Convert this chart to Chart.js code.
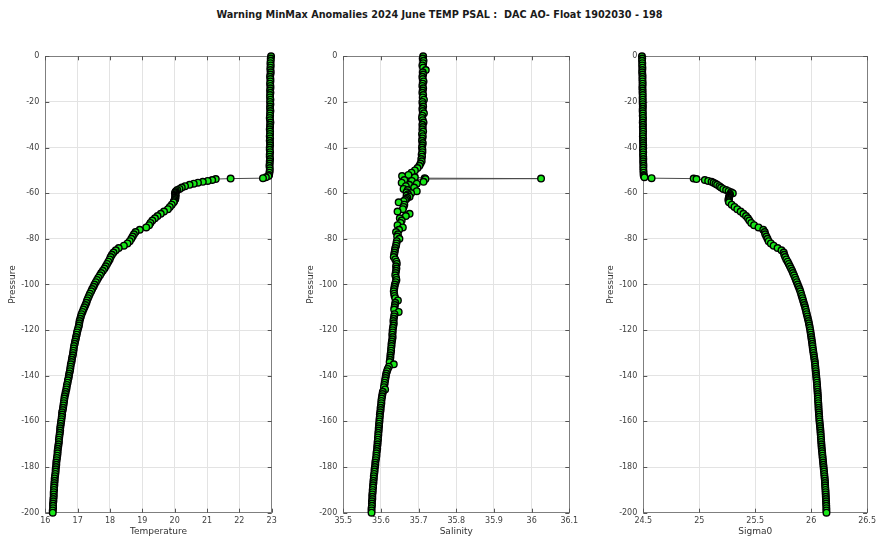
<!DOCTYPE html>
<html>
<head>
<meta charset="utf-8">
<script src="https://cdn.jsdelivr.net/npm/chart.js@4.4.1/dist/chart.umd.min.js"></script>
<style>
  html, body { margin: 0; padding: 0; background: #ffffff; }
  #wrap { position: relative; width: 879px; height: 538px; overflow: hidden; }
  #wrap canvas { position: absolute; left: 0; top: 0; }
  #title {
    position: absolute; left: 0; top: 9px; width: 879px; text-align: center;
    font: bold 9.7px "DejaVu Sans", sans-serif; color: #1a1a1a; white-space: pre;
  }
</style>
</head>
<body>
<div id="wrap">
  <div id="title">Warning MinMax Anomalies 2024 June TEMP PSAL :  DAC AO- Float 1902030 - 198</div>
  <canvas id="cTemp" width="879" height="538"></canvas>
  <canvas id="cPsal" width="879" height="538"></canvas>
  <canvas id="cSig" width="879" height="538"></canvas>
</div>
<script>
// Profile samples (dbar), shared by the three variables
const pressure = [
  0, 1, 2, 3, 4, 5, 6, 7, 8, 9,
  10, 11, 12, 13, 14, 15, 16, 17, 18, 19,
  20, 21, 22, 23, 24, 25, 26, 27, 28, 29,
  30, 31, 32, 33, 34, 35, 36, 37, 38, 39,
  40, 41, 42, 43, 44, 45, 46, 47, 48, 49,
  50, 51,
  52, 52.5, 53, 53.4, 53.6, 53.8, 54.2, 54.6, 55, 55.4,
  55.8, 56.3, 56.9, 57.5, 58.1, 58.6, 59.1, 59.6, 60, 60.5,
  61, 61.5, 62, 62.5, 63, 63.5,
  64, 65, 66, 67, 68, 69, 70, 71, 72, 73,
  74, 75, 76, 77, 78, 79, 80, 81, 82, 83,
  84, 85, 86, 87, 88, 89, 90, 91, 92, 93,
  94, 95, 96, 97, 98, 99, 100, 101, 102, 103,
  104, 105, 106, 107, 108, 109, 110, 111, 112, 113,
  114, 115, 116, 117, 118, 119, 120, 121, 122, 123,
  124, 125, 126, 127, 128, 129, 130, 131, 132, 133,
  134, 135, 136, 137, 138, 139, 140, 141, 142, 143,
  144, 145, 146, 147, 148, 149, 150, 151, 152, 153,
  154, 155, 156, 157, 158, 159, 160, 161, 162, 163,
  164, 165, 166, 167, 168, 169, 170, 171, 172, 173,
  174, 175, 176, 177, 178, 179, 180, 181, 182, 183,
  184, 185, 186, 187, 188, 189, 190, 191, 192, 193,
  194, 195, 196, 197, 198, 199, 200
];

// Temperature (degC)
const temperature = [
  22.98, 22.97, 22.97, 22.96, 22.97, 22.96, 22.96, 22.97, 22.96, 22.95,
  22.96, 22.96, 22.95, 22.96, 22.96, 22.95, 22.96, 22.95, 22.95, 22.96,
  22.95, 22.96, 22.95, 22.95, 22.96, 22.95, 22.95, 22.94, 22.95, 22.96,
  22.95, 22.95, 22.94, 22.95, 22.95, 22.94, 22.95, 22.94, 22.95, 22.95,
  22.94, 22.94, 22.95, 22.94, 22.94, 22.95, 22.94, 22.94, 22.93, 22.94,
  22.94, 22.93,
  22.92, 22.90, 22.82, 22.73, 21.73, 21.27, 21.16, 21.02, 20.87, 20.72,
  20.59, 20.46, 20.32, 20.22, 20.15, 20.08, 20.04, 20.02, 20.01, 20.03,
  20.02, 20.03, 20.01, 20.02, 20.00, 19.98,
  19.97, 19.91, 19.85, 19.79, 19.67, 19.57, 19.47, 19.39, 19.31, 19.25,
  19.21, 19.12, 18.92, 18.79, 18.74, 18.70, 18.66, 18.61, 18.54, 18.43,
  18.27, 18.18, 18.11, 18.06, 18.02, 17.99, 17.95, 17.91, 17.87, 17.83,
  17.78, 17.73, 17.69, 17.64, 17.60, 17.56, 17.52, 17.49, 17.45, 17.42,
  17.38, 17.35, 17.32, 17.29, 17.27, 17.24, 17.21, 17.18, 17.15, 17.12,
  17.10, 17.08, 17.06, 17.05, 17.04, 17.02, 17.00, 16.98, 16.97, 16.95,
  16.94, 16.92, 16.91, 16.89, 16.88, 16.87, 16.86, 16.85, 16.83, 16.82,
  16.81, 16.79, 16.78, 16.77, 16.76, 16.74, 16.73, 16.72, 16.70, 16.69,
  16.67, 16.66, 16.65, 16.63, 16.62, 16.60, 16.59, 16.58, 16.57, 16.56,
  16.55, 16.54, 16.52, 16.52, 16.51, 16.50, 16.49, 16.48, 16.47, 16.46,
  16.46, 16.45, 16.44, 16.43, 16.42, 16.42, 16.41, 16.40, 16.39, 16.38,
  16.38, 16.37, 16.36, 16.35, 16.34, 16.34, 16.33, 16.32, 16.32, 16.31,
  16.30, 16.29, 16.29, 16.28, 16.28, 16.27, 16.27, 16.26, 16.26, 16.26,
  16.25, 16.25, 16.24, 16.24, 16.24, 16.23, 16.23
];

// Practical salinity
const salinity = [
  35.712, 35.711, 35.713, 35.712, 35.710, 35.712, 35.719, 35.711, 35.712, 35.710,
  35.711, 35.713, 35.711, 35.710, 35.712, 35.711, 35.710, 35.712, 35.711, 35.714,
  35.710, 35.711, 35.712, 35.710, 35.711, 35.714, 35.710, 35.709, 35.711, 35.713,
  35.710, 35.711, 35.710, 35.712, 35.709, 35.711, 35.710, 35.709, 35.711, 35.710,
  35.709, 35.710, 35.710, 35.708, 35.709, 35.707, 35.708, 35.705, 35.702, 35.697,
  35.690, 35.681,
  35.673, 35.656, 35.690, 35.716, 36.025, 35.718, 35.662, 35.682, 35.713, 35.655,
  35.695, 35.675, 35.666, 35.688, 35.660, 35.671, 35.695, 35.668, 35.680, 35.672,
  35.668, 35.676, 35.670, 35.667, 35.664, 35.660,
  35.647, 35.662, 35.660, 35.658, 35.644, 35.676, 35.666, 35.650, 35.655, 35.652,
  35.644, 35.658, 35.648, 35.640, 35.645, 35.643, 35.649, 35.642, 35.641, 35.640,
  35.638, 35.637, 35.636, 35.635, 35.634, 35.638, 35.641, 35.642, 35.640, 35.641,
  35.640, 35.639, 35.638, 35.640, 35.641, 35.639, 35.637, 35.636, 35.635, 35.634,
  35.635, 35.636, 35.638, 35.645, 35.638, 35.637, 35.636, 35.635, 35.647, 35.636,
  35.635, 35.634, 35.633, 35.634, 35.633, 35.632, 35.631, 35.631, 35.630, 35.631,
  35.630, 35.629, 35.628, 35.628, 35.627, 35.627, 35.626, 35.625, 35.625, 35.624,
  35.623, 35.634, 35.621, 35.618, 35.616, 35.614, 35.613, 35.612, 35.611, 35.610,
  35.609, 35.608, 35.611, 35.605, 35.604, 35.603, 35.602, 35.601, 35.601, 35.600,
  35.599, 35.599, 35.598, 35.597, 35.597, 35.596, 35.596, 35.595, 35.595, 35.594,
  35.594, 35.593, 35.593, 35.592, 35.592, 35.591, 35.591, 35.590, 35.590, 35.589,
  35.588, 35.588, 35.587, 35.586, 35.585, 35.585, 35.584, 35.583, 35.583, 35.582,
  35.581, 35.581, 35.580, 35.580, 35.579, 35.579, 35.578, 35.578, 35.577, 35.577,
  35.577, 35.576, 35.576, 35.576, 35.575, 35.575, 35.575
];

// Potential density anomaly (kg/m3)
const sigma0 = [
  24.488, 24.490, 24.489, 24.491, 24.490, 24.492, 24.491, 24.490, 24.492, 24.493,
  24.492, 24.493, 24.494, 24.493, 24.492, 24.494, 24.493, 24.495, 24.494, 24.495,
  24.494, 24.495, 24.496, 24.495, 24.494, 24.496, 24.495, 24.497, 24.496, 24.495,
  24.497, 24.496, 24.497, 24.498, 24.497, 24.496, 24.498, 24.497, 24.498, 24.499,
  24.498, 24.497, 24.499, 24.498, 24.499, 24.500, 24.499, 24.500, 24.501, 24.500,
  24.501, 24.502,
  24.503, 24.505, 24.510, 24.574, 24.950, 24.975, 25.050, 25.080, 25.110, 25.128,
  25.145, 25.160, 25.180, 25.195, 25.215, 25.240, 25.262, 25.285, 25.300, 25.275,
  25.270, 25.268, 25.265, 25.262, 25.262, 25.263,
  25.266, 25.290, 25.315, 25.340, 25.370, 25.395, 25.418, 25.435, 25.448, 25.465,
  25.490, 25.530, 25.572, 25.585, 25.590, 25.600, 25.610, 25.620, 25.640, 25.665,
  25.700, 25.735, 25.755, 25.760, 25.768, 25.778, 25.790, 25.800, 25.810, 25.820,
  25.830, 25.838, 25.847, 25.856, 25.864, 25.872, 25.880, 25.888, 25.896, 25.903,
  25.910, 25.916, 25.922, 25.928, 25.934, 25.940, 25.946, 25.951, 25.956, 25.961,
  25.966, 25.971, 25.976, 25.980, 25.984, 25.988, 25.992, 25.995, 25.998, 26.001,
  26.004, 26.007, 26.010, 26.012, 26.015, 26.018, 26.021, 26.024, 26.027, 26.030,
  26.033, 26.035, 26.037, 26.039, 26.041, 26.043, 26.045, 26.047, 26.049, 26.051,
  26.053, 26.054, 26.056, 26.057, 26.059, 26.060, 26.061, 26.062, 26.064, 26.065,
  26.066, 26.067, 26.069, 26.070, 26.072, 26.073, 26.075, 26.077, 26.079, 26.081,
  26.083, 26.084, 26.086, 26.087, 26.089, 26.090, 26.092, 26.093, 26.095, 26.097,
  26.099, 26.101, 26.103, 26.105, 26.107, 26.109, 26.111, 26.113, 26.115, 26.117,
  26.119, 26.121, 26.123, 26.124, 26.125, 26.126, 26.128, 26.129, 26.130, 26.131,
  26.132, 26.133, 26.134, 26.135, 26.136, 26.136, 26.137
];

// Axis tick values
const pressureTicks = [0, -20, -40, -60, -80, -100, -120, -140, -160, -180, -200];
const temperatureTicks = [16, 17, 18, 19, 20, 21, 22, 23];
const salinityTicks = [35.5, 35.6, 35.7, 35.8, 35.9, 36, 36.1];
const sigma0Ticks = [24.5, 25, 25.5, 26, 26.5];

const FONT = '"DejaVu Sans", sans-serif';

// Box around the plot area plus inward tick marks on all four sides
const framePlugin = {
  id: 'frame',
  beforeDatasetsDraw(chart) {
    const { ctx, chartArea: a, scales } = chart;
    ctx.save();
    ctx.strokeStyle = '#7f7f7f';
    ctx.lineWidth = 1;
    ctx.strokeRect(Math.round(a.left) + 0.5, Math.round(a.top) + 0.5,
      Math.round(a.right - a.left), Math.round(a.bottom - a.top));
    ctx.strokeStyle = '#555555';
    ctx.beginPath();
    scales.x.ticks.forEach(t => {
      const px = Math.round(scales.x.getPixelForValue(t.value)) + 0.5;
      ctx.moveTo(px, a.bottom); ctx.lineTo(px, a.bottom - 4);
      ctx.moveTo(px, a.top); ctx.lineTo(px, a.top + 4);
    });
    scales.y.ticks.forEach(t => {
      const py = Math.round(scales.y.getPixelForValue(t.value)) + 0.5;
      ctx.moveTo(a.left, py); ctx.lineTo(a.left + 4, py);
      ctx.moveTo(a.right, py); ctx.lineTo(a.right - 4, py);
    });
    ctx.stroke();
    ctx.restore();
  }
};

function fmt(v) { return String(Math.round(v * 100) / 100); }

function profileChart(id, values, xTicks, xLabel, padLeft, padRight) {
  const pts = values.map((v, i) => ({ x: v, y: -pressure[i] }));
  return new Chart(document.getElementById(id), {
    type: 'scatter',
    data: {
      datasets: [{
        data: pts,
        showLine: true,
        borderColor: '#4a4a4a',
        borderWidth: 1,
        pointStyle: 'circle',
        pointRadius: 3.3,
        pointBackgroundColor: '#19e619',
        pointBorderColor: '#000000',
        pointBorderWidth: 1.4,
        clip: 8
      }]
    },
    options: {
      responsive: false,
      animation: false,
      devicePixelRatio: 1,
      events: [],
      layout: { padding: { left: padLeft, right: padRight, top: 56.3, bottom: 1.3 } },
      plugins: { legend: { display: false }, tooltip: { enabled: false } },
      scales: {
        x: {
          type: 'linear',
          min: xTicks[0],
          max: xTicks[xTicks.length - 1],
          afterBuildTicks: s => { s.ticks = xTicks.map(v => ({ value: v })); },
          afterFit: s => { s.height = 24; },
          grid: { color: '#e3e3e3', lineWidth: 1, drawTicks: false },
          border: { display: false },
          ticks: { callback: fmt, padding: 3, color: '#404040', font: { family: FONT, size: 8 }, maxRotation: 0 },
          title: { display: true, text: xLabel, color: '#333333', padding: { top: 0, bottom: 0 }, font: { family: FONT, size: 9 } }
        },
        y: {
          type: 'linear',
          min: -200,
          max: 0,
          afterBuildTicks: s => { s.ticks = pressureTicks.map(v => ({ value: v })); },
          afterFit: s => { s.width = 40; },
          grid: { color: '#e3e3e3', lineWidth: 1, drawTicks: false },
          border: { display: false },
          ticks: { callback: fmt, padding: 6, color: '#404040', font: { family: FONT, size: 8 } },
          title: { display: true, text: 'Pressure', color: '#333333', padding: { top: 2, bottom: 0 }, font: { family: FONT, size: 9 } }
        }
      }
    },
    plugins: [framePlugin]
  });
}

profileChart('cTemp', temperature, temperatureTicks, 'Temperature', 5.3, 607.3);
profileChart('cPsal', salinity, salinityTicks, 'Salinity', 303.3, 309.7);
profileChart('cSig', sigma0, sigma0Ticks, 'Sigma0', 603.3, 9.7);
</script>
</body>
</html>
